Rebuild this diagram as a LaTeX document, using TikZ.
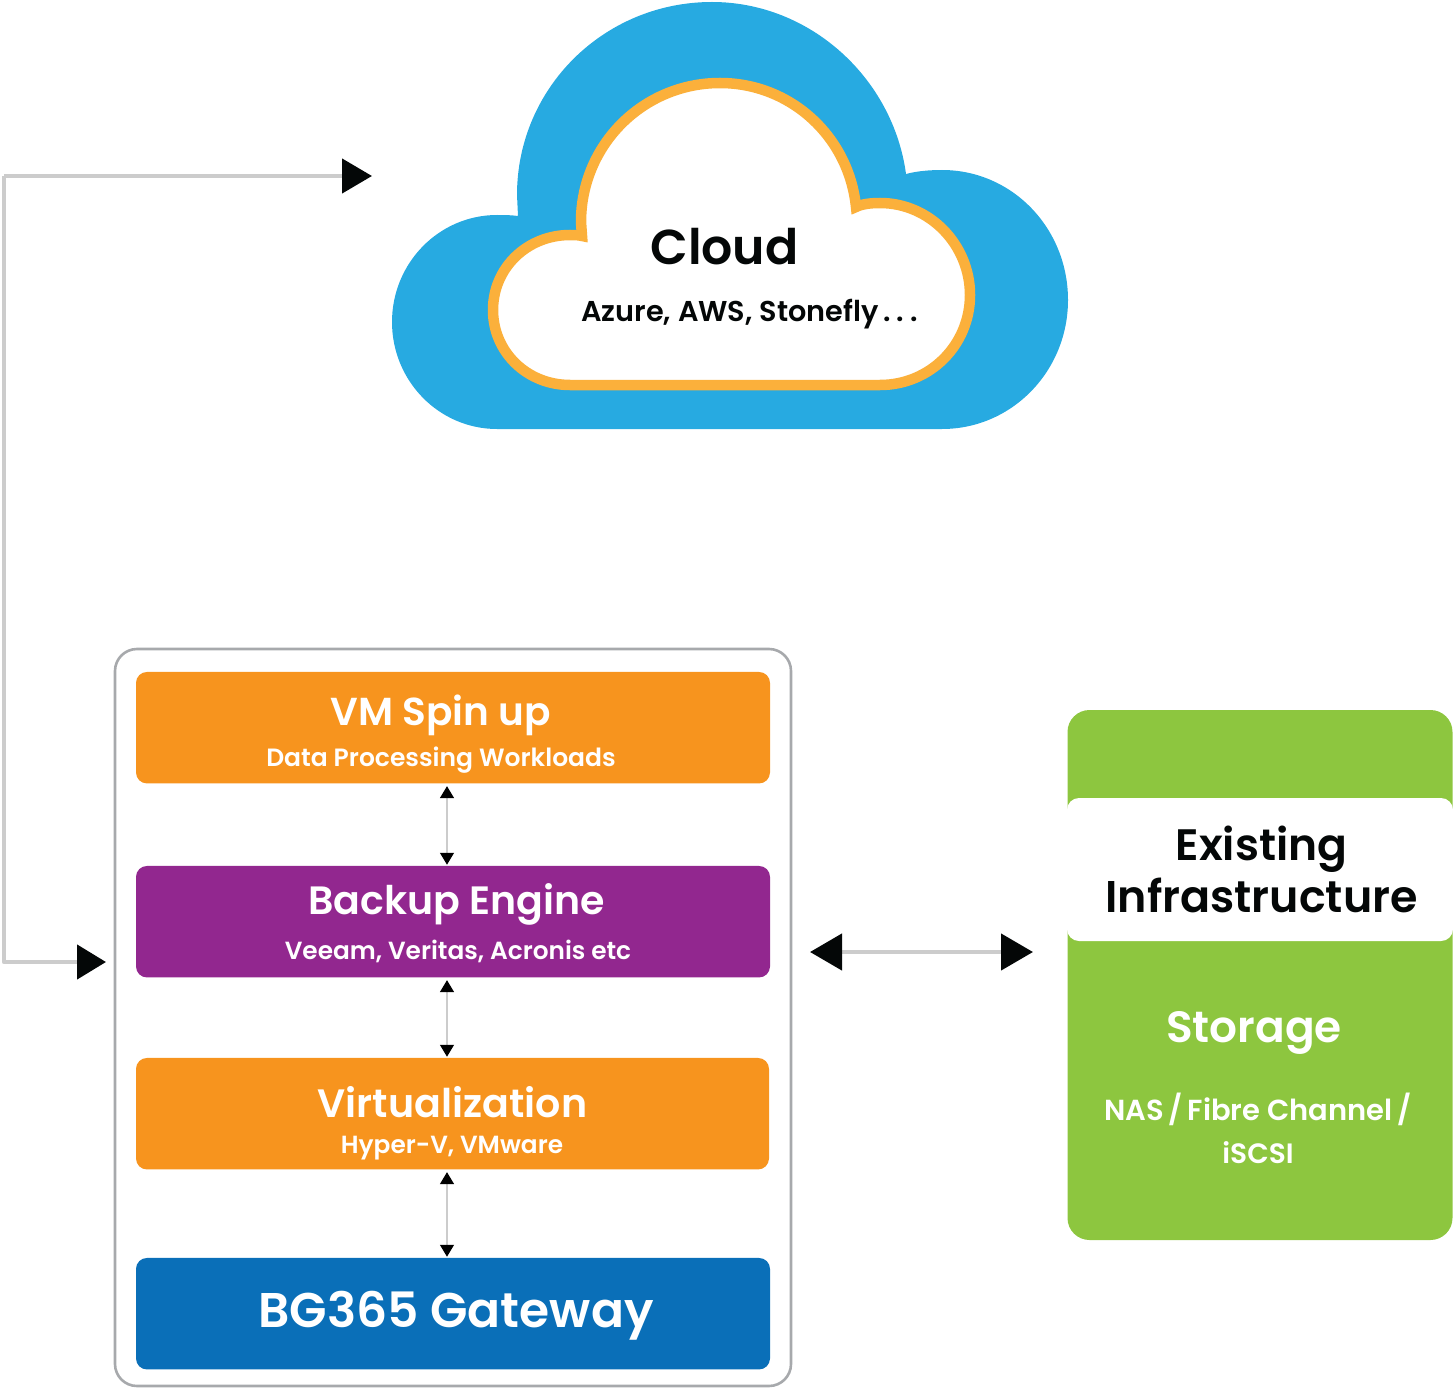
\documentclass[tikz,border=0pt]{standalone}
\usepackage{fontspec}
\setmainfont{Poppins SemiBold}
\usetikzlibrary{arrows.meta}
\definecolor{cblue}{HTML}{27AAE1}
\definecolor{corange}{HTML}{FBB03B}
\definecolor{borange}{HTML}{F7941E}
\definecolor{bpurple}{HTML}{92278F}
\definecolor{bblue}{HTML}{0A6FB8}
\definecolor{bgreen}{HTML}{8DC63F}
\definecolor{lgray}{HTML}{CCCCCC}
\definecolor{frame}{HTML}{A7A9AC}
\definecolor{ink}{HTML}{040707}
\tikzset{
 x=1pt,y=-1pt,
 stack/.style={rounded corners=11pt,minimum width=634pt,minimum height=111.5pt,inner sep=0pt,draw=none},
 lbl/.style={anchor=base,inner sep=0pt,align=center},
 white text/.style={lbl,text=white},
 black text/.style={lbl,text=ink},
 bigarrow/.style={draw=lgray,line width=4.5pt},
 smallarrow/.style={draw=lgray,line width=1.2pt,
   {Triangle[length=12pt,width=14pt,sep=2.5pt,black]}-{Triangle[length=12pt,width=14pt,sep=1pt,black]}},
}
\newcommand{\fz}[1]{\fontsize{#1}{#1}\selectfont}
\begin{document}
\begin{tikzpicture}
\useasboundingbox (0,0) rectangle (1453,1388);
% cloud
\fill[cblue] (497,429) -- (942,429)
  .. controls (1012,429) and (1068,371) .. (1068,300)
  .. controls (1068,228) and (1012,170) .. (942,170)
  .. controls (930,170) and (917,171) .. (906,174)
  .. controls (893,78) and (810,2) .. (712,2)
  .. controls (604,2) and (517,88) .. (517,195)
  -- (518,216)
  .. controls (511,215) and (504,215) .. (497,215)
  .. controls (439,215) and (392,263) .. (392,322)
  .. controls (392,381) and (439,429) .. (497,429) -- cycle;
\filldraw[fill=white,draw=corange,line width=10.5pt,miter limit=10] (570,385) -- (880,385)
  .. controls (930,385) and (970,345) .. (970,295)
  .. controls (970,245) and (930,203) .. (880,203)
  .. controls (871,203) and (862,204) .. (856,207)
  .. controls (849,137) and (791,83) .. (720,83)
  .. controls (643,83) and (581,145) .. (581,222)
  -- (582,236)
  .. controls (578,235) and (574,235) .. (570,235)
  .. controls (527,235) and (493,268) .. (493,310)
  .. controls (493,352) and (527,385) .. (570,385) -- cycle;
\node[black text] (cloudt) at (724.5,264.5) {\fz{49}Cloud};
\node[black text] (cloudst) at (749.5,321) {\fz{28.7}Azure, AWS, Stonefly\kern5pt.\kern6pt.\kern6pt.};
% gateway frame
\node[draw=frame,line width=2.6pt,rounded corners=22pt,minimum width=676pt,minimum height=737pt,inner sep=0pt] (frame) at (453,1017.5) {};
\node[stack,fill=borange] (vm) at (453,727.7) {};
\node[stack,fill=bpurple] (backup) at (453,921.7) {};
\node[stack,fill=borange,minimum width=633pt] (virt) at (452.5,1113.7) {};
\node[stack,fill=bblue] (gw) at (453,1313.7) {};
\node[white text] (vmt) at (440.5,725) {\fz{39}VM Spin up};
\node[white text] (vmst) at (441,766) {\fz{25}Data Processing Workloads};
\node[white text] (bt) at (456.5,914.5) {\fz{39.5}Backup Engine};
\node[white text] (bst) at (458,959) {\fz{24.8}Veeam, Veritas, Acronis etc};
\node[white text] (vt) at (452.5,1117) {\fz{39.6}Virtualization};
\node[white text] (vst) at (452,1153) {\fz{24.8}Hyper-V, VMware};
\node[white text] (gt) at (456,1327) {\fz{48.7}BG365 Gateway};
\draw[smallarrow] ([xshift=-6pt]vm.south) -- ([xshift=-6pt]backup.north);
\draw[smallarrow] ([xshift=-6pt]backup.south) -- ([xshift=-5.5pt]virt.north);
\draw[smallarrow] ([xshift=-5.5pt]virt.south) -- ([xshift=-6pt]gw.north);
% existing
\node[fill=bgreen,rounded corners=22pt,minimum width=385pt,minimum height=530pt,inner sep=0pt] (store) at (1260,975) {};
\node[fill=white,rounded corners=12pt,minimum width=386pt,minimum height=143pt,inner sep=0pt] (band) at (1260,869.5) {};
\node[black text] (ext) at (1261.5,860) {\fz{44}Existing};
\node[black text] (int) at (1261.5,912) {\fz{44.4}Infrastructure};
\node[white text] (st) at (1254,1042) {\fz{43.8}Storage};
\node[white text] (nt) at (1258,1120) {\fz{29}NAS\,/\,Fibre Channel\,/};
\node[white text] (it) at (1258,1163) {\fz{28}iSCSI};
% connectors
\coordinate (hook) at (384,176);
\coordinate (left1) at (4,176);
\coordinate (left2) at (4,962);
\coordinate (entry) at (114,962);
\draw[bigarrow,-{Triangle[length=30pt,width=34pt,sep=12pt,ink]}] (left1) -- (hook);
\draw[bigarrow,-{Triangle[length=29pt,width=34pt,sep=8pt,ink]},line join=round] (left1) -- (left2) -- (entry);
\coordinate (da) at (807,952);
\coordinate (db) at (1036,952);
\draw[bigarrow,{Triangle[length=32pt,width=36pt,sep=3pt,ink]}-{Triangle[length=32pt,width=36pt,sep=3pt,ink]}] (da) -- (db);
\end{tikzpicture}
\end{document}
